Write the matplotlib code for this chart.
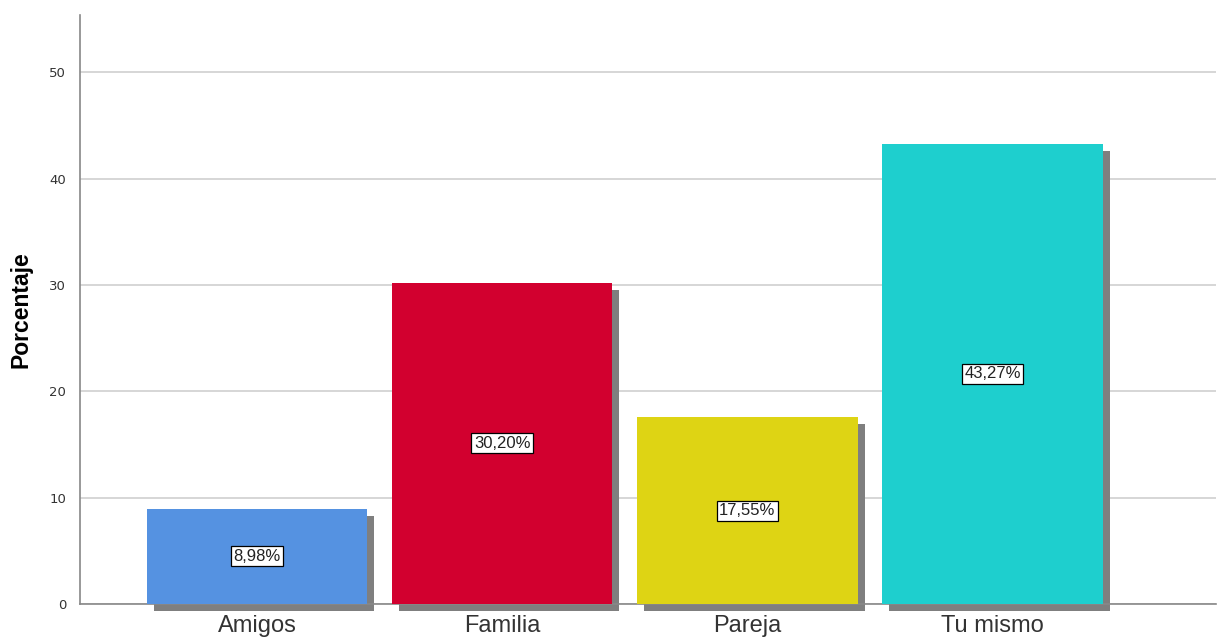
import matplotlib
matplotlib.use("Agg")
import matplotlib.pyplot as plt
import matplotlib.transforms as mtransforms
import numpy as np

categories = ["Amigos", "Familia", "Pareja", "Tu mismo"]
percentages = [8.98, 30.20, 17.55, 43.27]
bar_labels = ["8,98%", "30,20%", "17,55%", "43,27%"]
colors = ["#5592E1", "#D2002F", "#DED414", "#1ECFCE"]

fig = plt.figure(figsize=(12.21, 6.42), dpi=100)
ax = fig.add_axes([0.0655, 0.059, 0.93, 0.918])

x = np.arange(len(categories))
width = 0.9

# drop shadow, offset a few pixels right/down
shadow = ax.transData + mtransforms.ScaledTranslation(0.07, -0.07, fig.dpi_scale_trans)
ax.bar(x, percentages, width=width, color="#7f7f7f", transform=shadow,
       zorder=2, clip_on=False)
ax.bar(x, percentages, width=width, color=colors, zorder=3)

for xi, v, lab in zip(x, percentages, bar_labels):
    ax.text(xi, v / 2, lab, ha="center", va="center", fontsize=12, zorder=5,
            color="#222222", family="Liberation Sans",
            bbox=dict(boxstyle="square,pad=0.15", fc="white", ec="black", lw=0.9))

ax.set_xlim(-0.722, 3.91)
ax.set_ylim(0, 55.4)
ax.set_yticks([0, 10, 20, 30, 40, 50])
ax.set_xticks(x)
ax.set_xticklabels(categories, fontsize=17, color="#333333", family="Liberation Sans")
ax.tick_params(axis="y", length=0, labelsize=9.5, labelcolor="#333333", pad=10)
ax.tick_params(axis="x", length=0, pad=8)
ax.yaxis.grid(True, color="#cfcfcf", lw=1.2, zorder=0)
ax.set_axisbelow(True)

ax.set_ylabel("Porcentaje", fontsize=16.5, fontweight="bold", labelpad=12,
              family="Liberation Sans")
for s in ["top", "right"]:
    ax.spines[s].set_visible(False)
ax.spines["left"].set_color("#888888")
ax.spines["bottom"].set_color("#888888")
ax.spines["left"].set_linewidth(1.2)
ax.spines["bottom"].set_linewidth(1.2)

fig.savefig("out.png", dpi=100, facecolor="white")
